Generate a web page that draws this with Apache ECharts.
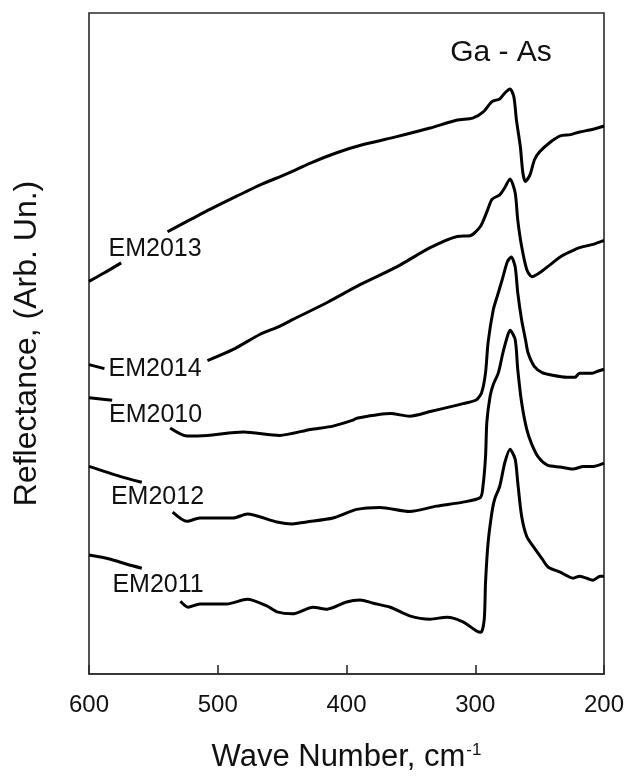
<!DOCTYPE html>
<html>
<head>
<meta charset="utf-8">
<script src="https://cdn.jsdelivr.net/npm/echarts@6/dist/echarts.min.js"></script>
<style>
  html, body { margin: 0; padding: 0; background: #fff; }
  #chart { width: 628px; height: 778px; }
</style>
</head>
<body>
<div id="chart"></div>
<script>
// Far-infrared reflectance spectra, offset for clarity: [wave number (cm-1), reflectance (arb. un.)]
// '-' marks the short stretch left out under each sample label.
const em2013 = [
  [600, 59.4], [588, 60.7], [575, 62.2], [560, '-'], [539, 66.9], [511, 69.8], [483, 72.5],
  [467, 74.0], [446, 75.7], [428, 77.3], [407, 78.9], [387, 80.1], [361, 81.3], [335, 82.6],
  [314, 83.8], [302, 84.1], [294, 85.0], [287, 86.6], [281, 87.0], [277, 87.9], [273, 88.5],
  [270, 87.3], [268, 83.8], [265, 79.8], [263, 75.8], [261, 74.5], [257.5, 75.5], [254, 77.8],
  [250, 79.0], [242, 80.4], [234, 81.4], [226, 81.6], [219, 82.0], [211, 82.3], [205, 82.6], [200, 82.9]
];
const em2014 = [
  [600, 46.8], [588, 46.2], [570, '-'], [508, 47.4], [488, 49.1], [467, 51.4], [452, 52.6],
  [442, 53.6], [415, 56.2], [389.5, 58.9], [361, 61.6], [335, 64.5], [314, 66.2], [304, 66.3],
  [296, 67.7], [291, 69.9], [287, 71.8], [281, 72.5], [277, 73.6], [273, 74.9], [269, 72.8],
  [267, 68.7], [264, 64.7], [260, 61.2], [256, 60.1], [250, 60.7], [242, 61.9], [234, 63.1],
  [226, 63.9], [219, 64.5], [208.5, 65.0], [200, 65.6]
];
const em2010 = [
  [600, 41.8], [582, 41.4], [560, '-'], [537, 37.2], [524, 36.0], [508, 36.1], [480, 36.6],
  [452, 36.1], [428, 37.0], [410.5, 37.5], [395, 38.4], [392, 38.7], [366, 39.4], [351, 39.0],
  [335, 39.7], [309.5, 40.9], [299, 41.5], [295, 42.6], [292, 45.6], [290, 50.2], [286, 55.1],
  [283, 57.1], [279, 59.7], [275, 62.4], [272, 63.1], [269, 61.6], [267, 57.7], [264, 53.6],
  [261, 50.6], [259, 48.6], [254, 46.5], [248, 45.6], [240, 45.2], [229, 44.9], [222.5, 44.9],
  [219, 45.5], [209, 45.5], [205, 45.8], [200, 46.1]
];
const em2012 = [
  [600, 31.4], [576, 29.9], [559, 29.0], [545, '-'], [535, 24.5], [524, 23.1], [514, 23.6],
  [488, 23.6], [477, 24.2], [454, 23.0], [442, 22.7], [431, 23.0], [410.5, 23.6], [392, 24.9],
  [374, 25.2], [351, 24.6], [330, 25.4], [309.5, 26.0], [296, 26.7], [294, 28.4], [292, 32.9],
  [291, 38.1], [288.5, 42.0], [286, 43.8], [282, 45.6], [278.5, 48.6], [275, 51.1], [273, 52.0],
  [269, 50.6], [267, 46.1], [264, 41.1], [260, 37.0], [256, 34.7], [251, 32.8], [244, 31.6],
  [234, 31.3], [224, 31.0], [216, 31.4], [208.5, 31.4], [200, 31.9]
];
const em2011 = [
  [600, 18.0], [584, 17.4], [570.5, 16.6], [559, 16.0], [545, '-'], [529, 11.0], [523, 10.1],
  [514, 10.6], [493, 10.6], [477, 11.3], [462, 10.3], [454, 9.4], [442, 9.1], [426, 10.1],
  [415, 9.8], [400, 10.9], [389.5, 11.2], [379, 10.7], [366, 10.1], [351, 8.8], [335, 8.3],
  [322, 8.6], [309.5, 7.9], [299, 6.5], [295.5, 6.3], [293, 8.3], [292, 13.9], [290, 19.9],
  [287, 24.5], [285, 26.4], [281, 28.4], [277, 32.0], [273, 34.0], [269, 32.5], [267, 29.0],
  [264, 23.9], [260, 20.8], [255, 19.3], [248, 17.4], [243.5, 16.2], [234, 15.4], [224, 14.5],
  [219, 14.8], [208.5, 14.2], [203, 14.8], [200, 14.8]
];

const sampleNames = ['EM2013', 'EM2014', 'EM2010', 'EM2012', 'EM2011'];
const sampleData = [em2013, em2014, em2010, em2012, em2011];

const waveMin = 200;
const waveMax = 600;
const waveStep = 100;

const bandName = 'Ga - As';

// Anchor points (wave number, reflectance) for the text annotations
const sampleLabelAt = [[548.7, 64.3], [548.7, 46.1], [548.3, 39.2], [546.8, 26.7], [546.4, 13.4]];
const bandLabelAt = [280, 94.0];

const FONT = "'Liberation Sans', Arial, Helvetica, sans-serif";
const INK = '#111';
const FRAME = '#2b2b2b';

const chart = echarts.init(document.getElementById('chart'), null, { renderer: 'canvas' });

function textMark(coord, text, size) {
  return {
    coord: coord,
    symbol: 'circle',
    symbolSize: 1,
    itemStyle: { color: 'rgba(0,0,0,0)' },
    label: {
      show: true,
      position: 'inside',
      formatter: text,
      fontFamily: FONT,
      fontSize: size,
      color: INK
    }
  };
}

const series = sampleNames.map(function (name, i) {
  const marks = [textMark(sampleLabelAt[i], name, 25)];
  if (i === 0) marks.push(textMark(bandLabelAt, bandName, 30));
  return {
    name: name,
    type: 'line',
    data: sampleData[i],
    showSymbol: false,
    smooth: 0.25,
    connectNulls: false,
    lineStyle: { color: '#000', width: 3 },
    itemStyle: { color: '#000' },
    markPoint: { silent: true, animation: false, data: marks },
    z: 3
  };
});

chart.setOption({
  animation: false,
  backgroundColor: '#fff',
  grid: {
    left: 89, right: 24, top: 13, bottom: 103,
    show: true, borderColor: FRAME, borderWidth: 1.6, backgroundColor: 'transparent'
  },
  xAxis: {
    type: 'value',
    inverse: true,
    min: waveMin,
    max: waveMax,
    interval: waveStep,
    axisLine: { show: true, lineStyle: { color: FRAME, width: 1.6 } },
    axisTick: { show: true, inside: true, length: 9, lineStyle: { color: FRAME, width: 1.6 } },
    splitLine: { show: false },
    axisLabel: { fontFamily: FONT, fontSize: 24, color: INK, margin: 19 },
    name: '{a|Wave Number, cm}{s|-1}',
    nameLocation: 'middle',
    nameGap: 68,
    nameTextStyle: {
      rich: {
        a: { fontFamily: FONT, fontSize: 31, color: INK },
        s: { fontFamily: FONT, fontSize: 17, color: INK, verticalAlign: 'top', padding: [0, 0, 14, 1] }
      }
    }
  },
  yAxis: {
    type: 'value',
    min: 0,
    max: 100,
    axisLine: { show: false },
    axisTick: { show: false },
    axisLabel: { show: false },
    splitLine: { show: false },
    name: 'Reflectance, (Arb. Un.)',
    nameLocation: 'middle',
    nameGap: 46,
    nameTextStyle: { fontFamily: FONT, fontSize: 32, color: INK }
  },
  series: series
});
</script>
</body>
</html>
